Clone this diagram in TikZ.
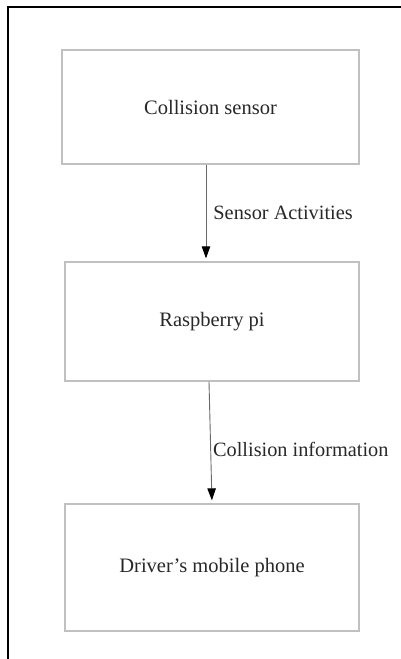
\documentclass[tikz,border=0pt]{standalone}
\usepackage{fontspec}
\setmainfont{Liberation Serif}
\usepackage{xcolor}
\definecolor{boxgray}{RGB}{192,192,192}
\definecolor{linegray}{RGB}{105,105,105}
\definecolor{textdark}{RGB}{40,40,40}
\usetikzlibrary{arrows.meta, calc}

\begin{document}
\begin{tikzpicture}[x=1pt,y=-1pt,
    block/.style={draw=boxgray,line width=1.3pt,minimum width=294pt,
      inner sep=0pt,text=textdark,font=\fontsize{20.5}{24}\selectfont},
    lbl/.style={anchor=west,inner sep=0pt,text=textdark,
      font=\fontsize{20.3}{24}\selectfont},
    flow/.style={draw=linegray,line width=0.9pt,shorten >=3pt,
      -{Triangle[length=12pt,width=8.5pt,color=black]}}]
  \useasboundingbox (0,0) rectangle (401,659);
  % frame of the cut-out
  \draw[line width=2pt] (401,7) -- (8,7) -- (8,659);
  \node[block,minimum width=297pt,minimum height=114pt] (sensor) at (210.5,107) {Collision sensor};
  \node[block,minimum height=119pt] (pi) at (212,321.5) {Raspberry pi};
  \node[block,minimum height=127pt] (phone) at (212,567.5) {Driver's mobile phone};
  \draw[flow] ([xshift=-4.5pt]sensor.south)
    -- node[lbl,pos=0.5,xshift=7pt] {Sensor Activities} ([xshift=-4.5pt]sensor.south |- pi.north);
  \draw[flow] ([xshift=-3pt]pi.south)
    -- node[lbl,pos=0.56,xshift=2pt] {Collision information} (phone.north);
\end{tikzpicture}
\end{document}
